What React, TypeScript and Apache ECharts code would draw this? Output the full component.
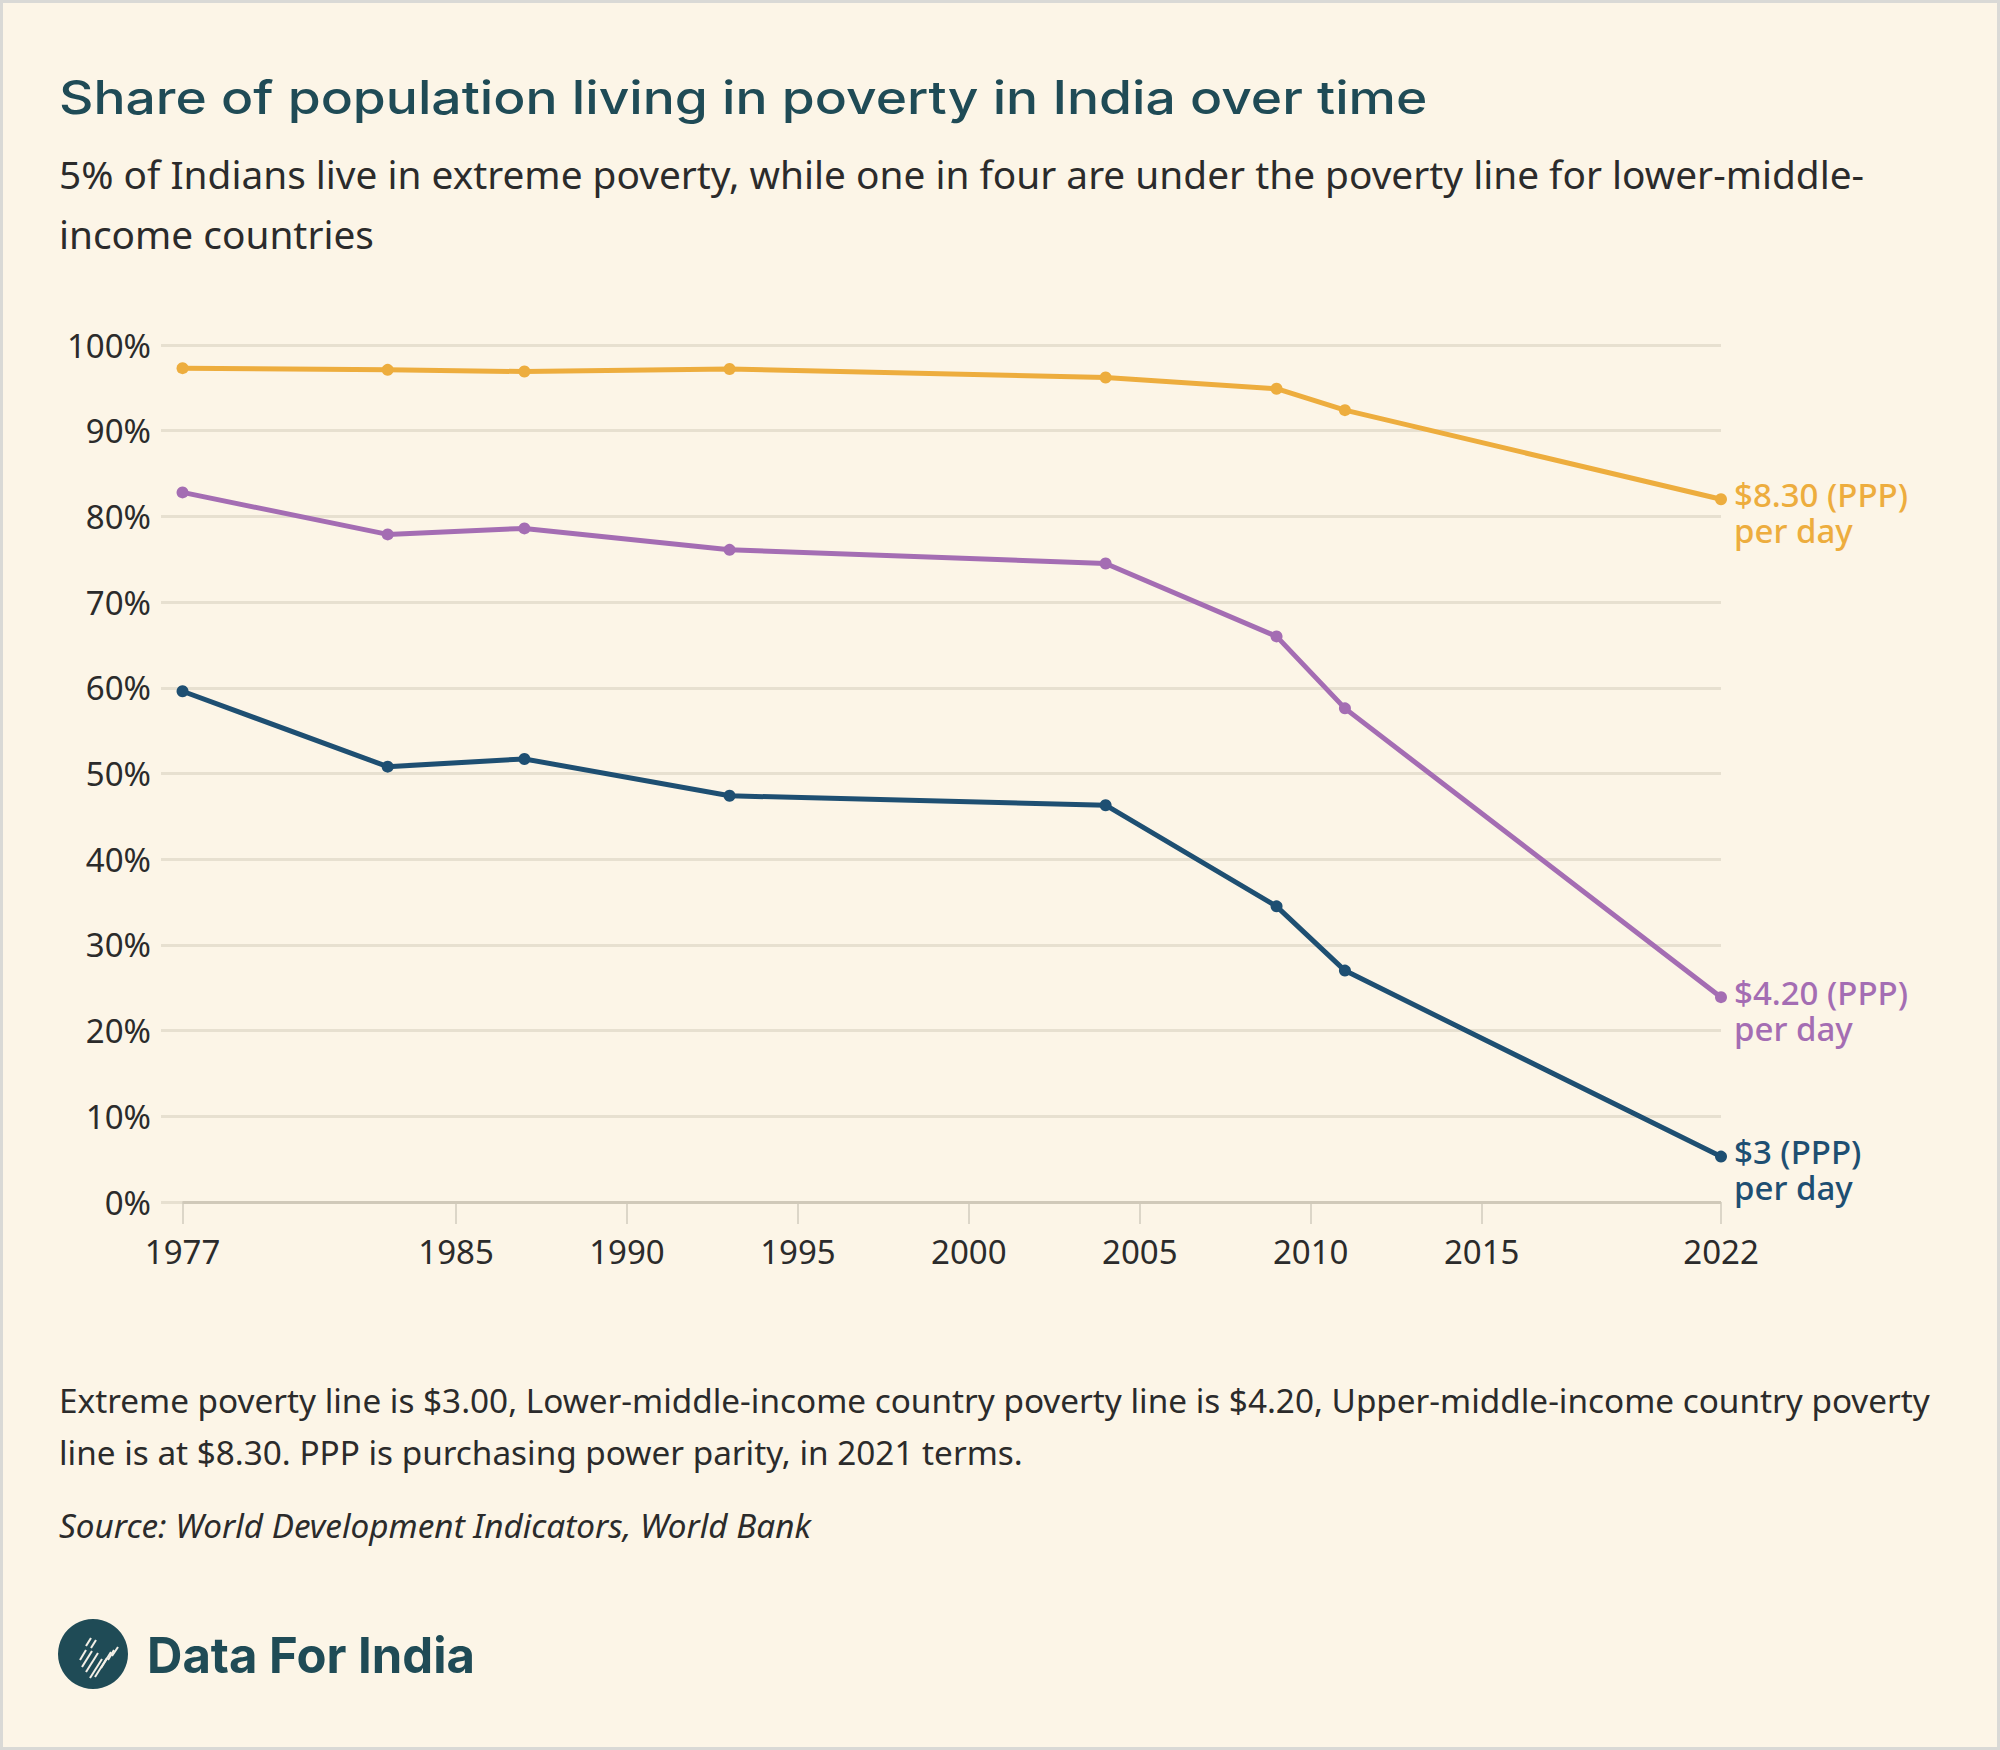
import React, { useEffect, useRef } from "react";
import * as echarts from "echarts";

// Survey years and share of population below each poverty line (%)
const years = [1977, 1983, 1987, 1993, 2004, 2009, 2011, 2022];
const upperMiddleLine = [97.3, 97.1, 96.9, 97.2, 96.2, 94.9, 92.4, 82.0];
const lowerMiddleLine = [82.8, 77.9, 78.6, 76.1, 74.5, 66.0, 57.6, 23.9];
const extremeLine = [59.6, 50.8, 51.7, 47.4, 46.3, 34.5, 27.0, 5.3];

const seriesNames = ["$8.30 (PPP)\nper day", "$4.20 (PPP)\nper day", "$3 (PPP)\nper day"];
const xTickYears = [1977, 1985, 1990, 1995, 2000, 2005, 2010, 2015, 2022];

const titleText = "Share of population living in poverty in India over time";
const subtitleLines = [
  "5% of Indians live in extreme poverty, while one in four are under the poverty line for lower-middle-",
  "income countries",
];
const noteLines = [
  "Extreme poverty line is $3.00, Lower-middle-income country poverty line is $4.20, Upper-middle-income country poverty",
  "line is at $8.30. PPP is purchasing power parity, in 2021 terms.",
];
const sourceText = "Source: World Development Indicators, World Bank";
const brandText = "Data For India";

const BG = "#FCF5E7";
const TEAL = "#1F4B56";
const TEXT = "#2B2B2B";
const ORANGE = "#EDAD3E";
const PURPLE = "#A46DB3";
const BLUE = "#1E4F72";
const SANS = "'Noto Sans', 'Open Sans', sans-serif";
const HEAD = "Inter, 'Noto Sans', sans-serif";

function toPoints(values: number[]) {
  return years.map((y, i) => [y, values[i]]);
}

function lineSeries(name: string, values: number[], color: string, extra: any = {}) {
  return {
    name,
    type: "line",
    data: toPoints(values),
    symbol: "circle",
    symbolSize: 12,
    lineStyle: { color, width: 5 },
    itemStyle: { color },
    z: 3,
    endLabel: {
      show: true,
      formatter: name,
      color,
      fontFamily: SANS,
      fontSize: 33,
      fontWeight: 500,
      lineHeight: 36,
      distance: 13,
      offset: [0, 13],
    },
    ...extra,
  };
}

// Diagonal white stripes forming the small map mark inside the logo circle
function logoStripes() {
  const segs = [
    [80, 1660, 86, 1650],
    [82, 1667, 92, 1651],
    [86, 1672, 98, 1653],
    [90, 1678, 102, 1659],
    [95, 1677, 107, 1658],
    [101, 1668, 111, 1652],
    [86, 1646, 91, 1638],
    [91, 1648, 96, 1640],
    [108, 1660, 114, 1650],
    [112, 1656, 118, 1647],
  ];
  return segs.map(([x1, y1, x2, y2]) => ({
    type: "line",
    shape: { x1, y1, x2, y2 },
    style: { stroke: "#F3EFE6", lineWidth: 2 },
    silent: true,
  }));
}

export default function App() {
  const ref = useRef<HTMLDivElement>(null);

  useEffect(() => {
    if (!ref.current) return;
    const chart = echarts.init(ref.current, null, { renderer: "svg" });

    const graphics: any[] = [
      {
        type: "rect",
        shape: { x: 1.5, y: 1.5, width: 1997, height: 1747 },
        style: { fill: "none", stroke: "#D9D9D6", lineWidth: 3 },
        silent: true,
      },
      {
        type: "text",
        x: 59,
        y: 97,
        scaleX: 1.16,
        style: {
          text: titleText,
          fill: TEAL,
          font: `500 46px ${HEAD}`,
          verticalAlign: "middle",
        },
      },
      ...subtitleLines.map((t, i) => ({
        type: "text",
        x: 59,
        y: 174 + i * 60,
        style: {
          text: t,
          fill: TEXT,
          font: `400 38.8px ${SANS}`,
          verticalAlign: "middle",
        },
      })),
      ...noteLines.map((t, i) => ({
        type: "text",
        x: 59,
        y: 1400 + i * 52,
        style: {
          text: t,
          fill: TEXT,
          font: `400 33.3px ${SANS}`,
          verticalAlign: "middle",
        },
      })),
      {
        type: "text",
        x: 59,
        y: 1525,
        style: {
          text: sourceText,
          fill: TEXT,
          font: `italic 400 33.3px ${SANS}`,
          verticalAlign: "middle",
        },
      },
      {
        type: "circle",
        shape: { cx: 93, cy: 1654, r: 35 },
        style: { fill: TEAL },
        silent: true,
      },
      ...logoStripes(),
      {
        type: "text",
        x: 147,
        y: 1655,
        style: {
          text: brandText,
          fill: TEAL,
          font: `700 49px ${HEAD}`,
          verticalAlign: "middle",
        },
      },
    ];

    chart.setOption({
      animation: false,
      backgroundColor: BG,
      grid: { left: 161, right: 279, top: 345, bottom: 548 },
      xAxis: {
        type: "value",
        min: 1976.37,
        max: 2022,
        axisLine: { show: false },
        splitLine: { show: false },
        axisTick: {
          show: true,
          customValues: xTickYears,
          length: 22,
          lineStyle: { color: "#DCD6C8", width: 2 },
        },
        axisLabel: {
          customValues: xTickYears,
          formatter: (v: number) => String(v),
          color: TEXT,
          fontFamily: SANS,
          fontSize: 33,
          margin: 33,
        },
      },
      yAxis: {
        type: "value",
        min: 0,
        max: 100,
        interval: 10,
        axisLine: { show: false },
        axisTick: { show: false },
        splitLine: { lineStyle: { color: "#E7E0D0", width: 3 } },
        axisLabel: {
          formatter: "{value}%",
          color: TEXT,
          fontFamily: SANS,
          fontSize: 33,
          margin: 10,
        },
      },
      series: [
        lineSeries(seriesNames[0], upperMiddleLine, ORANGE),
        lineSeries(seriesNames[1], lowerMiddleLine, PURPLE),
        lineSeries(seriesNames[2], extremeLine, BLUE, {
          markLine: {
            silent: true,
            symbol: "none",
            label: { show: false },
            lineStyle: { color: "#D0C9B9", width: 3, type: "solid" },
            z: 1,
            data: [[{ coord: [xTickYears[0], 0] }, { coord: [xTickYears[xTickYears.length - 1], 0] }]],
          },
        }),
      ],
      graphic: graphics,
    });

    return () => chart.dispose();
  }, []);

  return (
    <div
      ref={ref}
      style={{ position: "absolute", left: 0, top: 0, width: 2000, height: 1750 }}
    />
  );
}
